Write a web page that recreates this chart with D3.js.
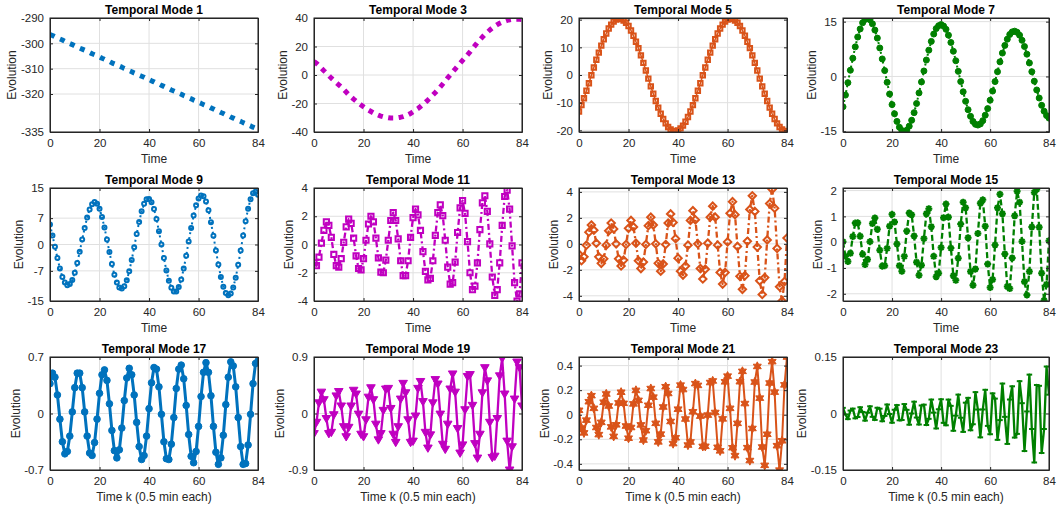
<!DOCTYPE html>
<html>
<head>
<meta charset="utf-8">
<script src="https://cdn.jsdelivr.net/npm/d3@7/dist/d3.min.js"></script>
<style>
  body { margin: 0; background: #fff; }
  svg { display: block; font-family: "Liberation Sans", Arial, Helvetica, sans-serif; }
</style>
</head>
<body>
<div id="chart"></div>
<script>
// time index k = 0..84
const timeSteps = d3.range(0, 85);
const xTicks = [0, 20, 40, 60, 84];

const mode1 = [-296.5,-296.9,-297.4,-297.8,-298.3,-298.7,-299.2,-299.6,-300.1,-300.5,
  -301.0,-301.4,-301.9,-302.3,-302.7,-303.2,-303.6,-304.1,-304.5,-305.0,
  -305.4,-305.9,-306.3,-306.8,-307.2,-307.7,-308.1,-308.5,-309.0,-309.4,
  -309.9,-310.3,-310.8,-311.2,-311.7,-312.1,-312.6,-313.0,-313.4,-313.9,
  -314.3,-314.8,-315.2,-315.7,-316.1,-316.6,-317.0,-317.5,-317.9,-318.4,
  -318.8,-319.2,-319.7,-320.1,-320.6,-321.0,-321.5,-321.9,-322.4,-322.8,
  -323.3,-323.7,-324.2,-324.6,-325.0,-325.5,-325.9,-326.4,-326.8,-327.3,
  -327.7,-328.2,-328.6,-329.1,-329.5,-330.0,-330.4,-330.8,-331.3,-331.7,
  -332.2,-332.6,-333.1,-333.5,-334.0];
const mode3 = [9.5,8.2,6.5,4.7,3,1.4,-0.4,-2.2,-3.8,-5.4,
  -6.9,-8.4,-10.2,-12,-13.8,-15.4,-16.9,-18.3,-19.7,-21,
  -22.3,-23.5,-24.6,-25.6,-26.6,-27.5,-28.2,-28.8,-29.3,-29.7,
  -30,-30.2,-30.2,-30.1,-29.9,-29.6,-29.2,-28.6,-27.9,-27,
  -25.8,-24.6,-23.5,-22.1,-20.6,-19.2,-17.6,-15.9,-14.1,-12.3,
  -10.4,-8.4,-6.3,-4.2,-2,0,2.2,4.2,6.2,8.2,
  10.2,12.2,14.2,16.2,18.4,20.6,22.8,24.7,26.6,28.4,
  30,31.6,33,34.2,35.3,36.3,37.1,37.7,38.3,38.7,
  39,39.2,39.2,39.1,39];
const mode5 = [-13.2,-10.9,-8.4,-5.7,-3.0,-0.1,2.7,5.5,8.1,10.6,
  12.9,15.0,16.8,18.2,19.3,20.0,20.3,20.2,19.7,18.9,
  17.7,16.1,14.2,12.0,9.7,7.1,4.4,1.6,-1.3,-4.1,
  -6.8,-9.4,-11.8,-14.0,-15.9,-17.5,-18.8,-19.7,-20.2,-20.3,
  -20.0,-19.3,-18.3,-16.9,-15.2,-13.2,-10.9,-8.4,-5.7,-3.0,
  -0.1,2.7,5.5,8.1,10.6,12.9,15.0,16.8,18.2,19.3,
  20.0,20.3,20.2,19.7,18.9,17.7,16.1,14.2,12.0,9.7,
  7.1,4.4,1.6,-1.3,-4.1,-6.8,-9.4,-11.8,-14.0,-15.9,
  -17.5,-18.8,-19.7,-20.2,-20.3];
const mode7 = [-8.3,-5.1,-1.7,1.7,5.0,8.1,10.8,13.0,14.7,15.6,
  15.9,15.5,14.4,12.7,10.5,7.8,4.8,1.6,-1.6,-4.8,
  -7.7,-10.2,-12.3,-13.9,-14.8,-15.1,-14.7,-13.6,-12.0,-9.9,
  -7.4,-4.5,-1.5,1.5,4.5,7.2,9.6,11.6,13.1,13.9,
  14.2,13.8,12.9,11.3,9.3,6.9,4.3,1.4,-1.4,-4.2,
  -6.8,-9.1,-10.9,-12.3,-13.1,-13.3,-13.0,-12.1,-10.6,-8.8,
  -6.5,-4.0,-1.4,1.3,4.0,6.4,8.5,10.2,11.5,12.2,
  12.4,12.1,11.3,9.9,8.2,6.1,3.7,1.3,-1.3,-3.7,
  -5.9,-7.9,-9.5,-10.7,-11.4];
const mode9 = [5.3,2.4,-0.6,-3.6,-6.4,-8.6,-10.1,-10.8,-10.5,-9.4,
  -7.5,-4.9,-1.9,1.3,4.4,7.2,9.3,10.7,11.3,10.8,
  9.5,7.3,4.5,1.3,-2.0,-5.2,-8.0,-10.1,-11.4,-11.7,
  -11.1,-9.5,-7.1,-4.1,-0.7,2.8,6.0,8.8,10.8,12.0,
  12.1,11.2,9.4,6.8,3.5,0,-3.6,-6.9,-9.6,-11.5,
  -12.5,-12.5,-11.3,-9.3,-6.4,-3.0,0.8,4.4,7.7,10.4,
  12.2,13.0,12.8,11.4,9.1,5.9,2.3,-1.6,-5.3,-8.6,
  -11.2,-12.9,-13.5,-13.0,-11.4,-8.8,-5.4,-1.6,2.4,6.2,
  9.5,12.0,13.6,14.0,13.2];
const mode11 = [-1.3,-1.5,-0.9,0.1,1.0,1.6,1.35,0.5,-0.7,-1.5,
  -1.6,-1.0,0.15,1.25,1.8,1.5,0.45,-0.8,-1.7,-1.8,
  -1.0,0.3,1.45,2.0,1.6,0.45,-0.95,-1.95,-2.0,-1.1,
  0.3,1.7,2.25,1.7,0.4,-1.15,-2.2,-2.2,-1.15,0.5,
  1.9,2.5,2.1,1.0,-0.5,-1.9,-2.5,-2.4,-1.15,0.65,
  2.25,2.8,2.05,0.3,-1.6,-2.8,-2.7,-1.25,0.85,2.6,
  3.1,2.2,0.2,-2.0,-3.2,-2.95,-1.3,1.05,2.95,3.45,
  2.35,0.05,-2.3,-3.6,-3.2,-1.3,1.35,3.4,3.85,2.5,
  -0.1,-2.7,-4.0,-3.5,-1.3];
const mode13 = [-0.8,-1.3,-1.0,-0.1,0.9,1.45,1.05,0.05,-1.0,-1.5,
  -1.15,-0.1,1.0,1.6,1.15,0.0,-1.15,-1.7,-1.25,-0.05,
  1.2,1.8,1.3,0.05,-1.3,-1.9,-1.4,-0.05,1.4,2.05,
  1.45,0.0,-1.5,-2.1,-1.55,-0.05,1.6,2.3,1.65,0.4,
  -1.1,-2.1,-2.4,-1.7,-0.1,1.8,2.55,1.85,0.0,-1.9,
  -2.7,-1.95,0.05,2.05,2.9,2.05,-0.1,-2.2,-3.1,-2.2,
  0.15,2.35,3.25,2.25,-0.2,-2.5,-3.5,-2.45,0.2,2.65,
  3.7,2.5,-0.25,-2.85,-3.9,-2.6,0.3,3.1,4.2,2.75,
  -0.35,-3.3,-4.4,-2.9,0.45];
const mode15 = [0.02,-0.55,-0.75,-0.43,0.22,0.74,0.75,0.23,-0.47,-0.87,
  -0.67,0.02,0.72,0.94,0.50,-0.31,-0.93,-0.91,-0.24,0.62,
  1.08,0.78,-0.07,-0.91,-1.13,-0.55,0.43,1.13,1.06,0.24,
  -0.78,-1.28,-0.89,0.14,1.10,1.30,0.60,-0.55,-1.34,-1.20,
  -0.21,0.95,1.48,0.97,-0.23,-1.30,-1.48,-0.62,0.70,1.55,
  1.33,0.17,-1.14,-1.67,-1.04,0.34,1.51,1.64,0.62,-0.85,
  -1.76,-1.45,-0.11,1.33,1.86,1.10,-0.46,-1.72,-1.80,-0.61,
  1.02,1.97,1.55,0.03,-1.53,-2.05,-1.14,0.59,1.93,2.05,
  0.58,-1.20,-2.26,-1.64,0.06];
const mode17 = [0.37,0.50,0.45,0.23,-0.07,-0.35,-0.50,-0.47,-0.28,0.02,
  0.32,0.50,0.50,0.32,0.02,-0.28,-0.49,-0.52,-0.36,-0.07,
  0.25,0.48,0.54,0.41,0.12,-0.21,-0.46,-0.55,-0.45,-0.18,
  0.16,0.44,0.56,0.48,0.23,-0.11,-0.41,-0.57,-0.52,-0.28,
  0.06,0.38,0.57,0.55,0.33,-0.01,-0.35,-0.56,-0.57,-0.38,
  -0.05,0.31,0.55,0.60,0.43,0.10,-0.26,-0.53,-0.61,-0.47,
  -0.16,0.21,0.51,0.63,0.51,0.22,-0.16,-0.48,-0.63,-0.55,
  -0.27,0.11,0.45,0.64,0.59,0.33,-0.05,-0.41,-0.63,-0.62,
  -0.39,-0.01,0.37,0.62,0.65];
const mode19 = [-0.32,-0.14,0.17,0.34,0.22,-0.08,-0.32,-0.30,-0.02,0.28,
  0.35,0.12,-0.21,-0.37,-0.22,0.12,0.37,0.31,-0.01,-0.33,
  -0.37,-0.10,0.26,0.41,0.22,-0.17,-0.42,-0.32,0.05,0.39,
  0.40,0.08,-0.33,-0.46,-0.21,0.23,0.48,0.33,-0.10,-0.46,
  -0.44,-0.04,0.40,0.51,0.19,-0.30,-0.55,-0.34,0.17,0.54,
  0.47,-0.01,-0.49,-0.57,-0.17,0.39,0.63,0.34,-0.24,-0.63,
  -0.50,0.06,0.59,0.62,0.13,-0.48,-0.71,-0.33,0.33,0.73,
  0.52,-0.14,-0.70,-0.68,-0.08,0.60,0.88,0.31,-0.44,-0.90,
  -0.53,0.23,0.82,0.73,0.12];
const mode21 = [0.036,-0.108,-0.148,-0.044,0.106,0.155,0.052,-0.104,-0.162,-0.062,
  0.102,0.169,0.071,-0.099,-0.176,-0.082,0.096,0.183,0.093,-0.092,
  -0.191,-0.104,0.088,0.198,0.117,-0.083,-0.206,-0.130,0.077,0.213,
  0.143,-0.070,-0.221,-0.158,0.063,0.228,0.173,-0.055,-0.235,-0.188,
  0.045,0.241,0.205,-0.035,-0.247,-0.222,0.024,0.253,0.239,-0.011,
  -0.258,-0.257,-0.003,0.262,0.275,0.018,-0.265,-0.294,-0.034,0.268,
  0.314,0.052,-0.269,-0.333,-0.070,0.269,0.353,0.091,-0.268,-0.373,
  -0.112,0.266,0.393,0.135,-0.263,-0.412,-0.159,0.258,0.432,0.184,
  -0.252,-0.451,-0.212,0.243,0.470];
const mode23 = [0.015,-0.0026,-0.0149,0.0078,0.013,-0.0128,-0.0093,0.0166,0.0041,-0.0189,
  0.0022,0.0191,-0.0088,-0.0171,0.0152,0.0128,-0.0205,-0.0064,0.0238,-0.0013,
  -0.0245,0.0099,0.0224,-0.018,-0.0173,0.025,0.0097,-0.0297,0.0,0.0313,
  -0.0107,-0.0292,0.0213,0.0234,-0.0305,-0.0142,0.037,0.0023,-0.0397,0.0112,
  0.0378,-0.0248,-0.0313,0.0369,0.0203,-0.0458,-0.0056,0.0501,-0.0113,-0.0488,
  0.0287,0.0415,-0.0445,-0.0285,0.0567,0.0105,-0.0633,0.0107,0.0629,-0.0329,
  -0.055,0.0535,0.0395,-0.0699,-0.0176,0.0795,-0.0089,-0.0807,0.0371,0.0722,
  -0.0639,-0.0541,0.0858,0.0274,-0.0997,0.0054,0.1032,-0.0411,-0.13,0.0757,
  0.0735,-0.1049,-0.0412,0.1247,0.05];

// y-axis ticks and limits per mode
const yTicks1 = [-335, -320, -310, -300, -290], yLim1 = [-335, -290];
const yTicks3 = [-40, -20, 0, 20, 40], yLim3 = [-40, 40];
const yTicks5 = [-20, -10, 0, 10, 20], yLim5 = [-20.6, 20.6];
const yTicks7 = [-15, 0, 15], yLim7 = [-15.2, 16];
const yTicks9 = [-15, -7, 0, 7, 15], yLim9 = [-15, 15];
const yTicks11 = [-4, -2, 0, 2, 4], yLim11 = [-4, 4];
const yTicks13 = [-4, -2, 0, 2, 4], yLim13 = [-4.4, 4.3];
const yTicks15 = [-2, -1, 0, 1, 2], yLim15 = [-2.28, 2.1];
const yTicks17 = [-0.7, 0, 0.7], yLim17 = [-0.7, 0.7];
const yTicks19 = [-0.9, 0, 0.9], yLim19 = [-0.9, 0.9];
const yTicks21 = [-0.4, -0.2, 0, 0.2, 0.4], yLim21 = [-0.45, 0.47];
const yTicks23 = [-0.15, 0, 0.15], yLim23 = [-0.15, 0.15];

const blue = "#0072BD", magenta = "#C000C0", orange = "#D95319", green = "#008000";

const panels = [
  { title: "Temporal Mode 1",  values: mode1,  ticks: yTicks1,  lim: yLim1,  color: blue,    lw: 5, dash: "5,6", marker: null },
  { title: "Temporal Mode 3",  values: mode3,  ticks: yTicks3,  lim: yLim3,  color: magenta, lw: 5, dash: "5,5.5", marker: null },
  { title: "Temporal Mode 5",  values: mode5,  ticks: yTicks5,  lim: yLim5,  color: orange,  lw: 1.5, dash: null, marker: "square", ms: 2.2, sw: 2, fill: false },
  { title: "Temporal Mode 7",  values: mode7,  ticks: yTicks7,  lim: yLim7,  color: green,   lw: 2, dash: "2,3", marker: "circle", ms: 3, sw: 1, fill: true },
  { title: "Temporal Mode 9",  values: mode9,  ticks: yTicks9,  lim: yLim9,  color: blue,    lw: 2, dash: "2,3", marker: "circle", ms: 2, sw: 2, fill: false },
  { title: "Temporal Mode 11", values: mode11, ticks: yTicks11, lim: yLim11, color: magenta, lw: 2.3, dash: "6,3,2,3", marker: "square", ms: 2.6, sw: 2, fill: false },
  { title: "Temporal Mode 13", values: mode13, ticks: yTicks13, lim: yLim13, color: orange,  lw: 2.3, dash: "6,3,2,3", marker: "diamond", ms: 3.7, sw: 2, fill: false },
  { title: "Temporal Mode 15", values: mode15, ticks: yTicks15, lim: yLim15, color: green,   lw: 2.3, dash: "6,3", marker: "asterisk", ms: 3.5, sw: 2, fill: false },
  { title: "Temporal Mode 17", values: mode17, ticks: yTicks17, lim: yLim17, color: blue,    lw: 3, dash: null, marker: "circle", ms: 3.3, sw: 1, fill: true },
  { title: "Temporal Mode 19", values: mode19, ticks: yTicks19, lim: yLim19, color: magenta, lw: 2.3, dash: null, marker: "triangleDown", ms: 4.3, sw: 1, fill: true },
  { title: "Temporal Mode 21", values: mode21, ticks: yTicks21, lim: yLim21, color: orange,  lw: 2, dash: null, marker: "hexagram", ms: 4.6, sw: 1, fill: true },
  { title: "Temporal Mode 23", values: mode23, ticks: yTicks23, lim: yLim23, color: green,   lw: 2.3, dash: null, marker: "hbar", ms: 2.8, sw: 2, fill: false }
];

// plot boxes (left/right per column, top/bottom per row)
const colX = [[50, 258], [314, 522], [579, 787], [843, 1049]];
const rowY = [[18, 132], [188, 301], [357, 470]];
const axisColor = "#262626";
const gridColor = "#e0e0e0";

function markerPath(type, s) {
  switch (type) {
    case "square": return `M${-s},${-s}H${s}V${s}H${-s}Z`;
    case "circle": return `M${-s},0a${s},${s} 0 1,0 ${2 * s},0a${s},${s} 0 1,0 ${-2 * s},0Z`;
    case "diamond": return `M0,${-s}L${s},0L0,${s}L${-s},0Z`;
    case "triangleDown": return `M${-s},${-s * 0.7}L${s},${-s * 0.7}L0,${s}Z`;
    case "hbar": return `M${-s},0H${s}`;
    case "asterisk": {
      const c = s * 0.707;
      return `M${-s},0H${s}M0,${-s}V${s}M${-c},${-c}L${c},${c}M${-c},${c}L${c},${-c}`;
    }
    case "hexagram": {
      const pts = [];
      for (let k = 0; k < 12; k++) {
        const r = k % 2 === 0 ? s : s * 0.55;
        const a = Math.PI / 6 * k - Math.PI / 2;
        pts.push([r * Math.cos(a), r * Math.sin(a)]);
      }
      return "M" + pts.map(p => p.join(",")).join("L") + "Z";
    }
  }
  return "";
}

const svg = d3.select("#chart").append("svg")
  .attr("width", 1058)
  .attr("height", 513);

const defs = svg.append("defs");

panels.forEach((p, i) => {
  const col = i % 4, row = Math.floor(i / 4);
  const [x0, x1] = colX[col];
  const [y0, y1] = rowY[row];

  const x = d3.scaleLinear().domain([0, 84]).range([x0, x1]);
  const y = d3.scaleLinear().domain(p.lim).range([y1, y0]);

  const g = svg.append("g");

  // grid
  g.append("g").selectAll("line").data(xTicks).join("line")
    .attr("x1", d => x(d)).attr("x2", d => x(d))
    .attr("y1", y0).attr("y2", y1)
    .attr("stroke", gridColor).attr("stroke-width", 1);
  g.append("g").selectAll("line").data(p.ticks).join("line")
    .attr("x1", x0).attr("x2", x1)
    .attr("y1", d => y(d)).attr("y2", d => y(d))
    .attr("stroke", gridColor).attr("stroke-width", 1);

  // series
  defs.append("clipPath").attr("id", "clip" + i)
    .append("rect").attr("x", x0).attr("y", y0)
    .attr("width", x1 - x0).attr("height", y1 - y0);
  const plot = g.append("g").attr("clip-path", `url(#clip${i})`);

  const line = d3.line()
    .x((d, k) => x(timeSteps[k]))
    .y(d => y(d));

  plot.append("path")
    .datum(p.values)
    .attr("d", line)
    .attr("fill", "none")
    .attr("stroke", p.color)
    .attr("stroke-width", p.lw)
    .attr("stroke-dasharray", p.dash)
    .attr("stroke-linejoin", "round");

  if (p.marker) {
    const shape = markerPath(p.marker, p.ms);
    plot.append("g").selectAll("path").data(p.values).join("path")
      .attr("transform", (d, k) => `translate(${x(timeSteps[k])},${y(d)})`)
      .attr("d", shape)
      .attr("fill", p.fill ? p.color : "none")
      .attr("stroke", p.color)
      .attr("stroke-width", p.sw);
  }

  // axes
  const xAxis = d3.axisBottom(x).tickValues(xTicks).tickSizeInner(-3).tickSizeOuter(0)
    .tickPadding(7).tickFormat(d => String(d));
  const yAxis = d3.axisLeft(y).tickValues(p.ticks).tickSizeInner(-3).tickSizeOuter(0)
    .tickPadding(6).tickFormat(d => String(d));

  g.append("g").attr("transform", `translate(0,${y1})`).call(xAxis);
  const gy = g.append("g").attr("transform", `translate(${x0},0)`).call(yAxis);
  g.append("g").attr("transform", `translate(0,${y0})`)
    .call(d3.axisTop(x).tickValues(xTicks).tickSizeInner(-3).tickSizeOuter(0).tickFormat(""));
  g.append("g").attr("transform", `translate(${x1},0)`)
    .call(d3.axisRight(y).tickValues(p.ticks).tickSizeInner(-3).tickSizeOuter(0).tickFormat(""));

  g.selectAll(".domain, .tick line").attr("stroke", axisColor);
  g.selectAll(".tick text").attr("fill", axisColor)
    .style("font-size", "11.5px")
    .style("font-family", "'Liberation Sans', Arial, sans-serif");

  // axis box outline
  g.append("rect").attr("x", x0).attr("y", y0)
    .attr("width", x1 - x0).attr("height", y1 - y0)
    .attr("fill", "none").attr("stroke", axisColor).attr("stroke-width", 1);

  // labels
  const tb = gy.node().getBBox();

  g.append("text")
    .attr("transform", `translate(${x0 + tb.x - 4.5},${(y0 + y1) / 2}) rotate(-90)`)
    .attr("text-anchor", "middle")
    .attr("fill", axisColor)
    .style("font-size", "12px")
    .text("Evolution");

  g.append("text")
    .attr("x", (x0 + x1) / 2)
    .attr("y", y1 + 31)
    .attr("text-anchor", "middle")
    .attr("fill", axisColor)
    .style("font-size", "12px")
    .text(row === 2 ? "Time k (0.5 min each)" : "Time");

  g.append("text")
    .attr("x", (x0 + x1) / 2)
    .attr("y", y0 - 4.5)
    .attr("text-anchor", "middle")
    .attr("fill", "#000")
    .style("font-size", "12px")
    .style("font-weight", "bold")
    .text(p.title);
});
</script>
</body>
</html>
